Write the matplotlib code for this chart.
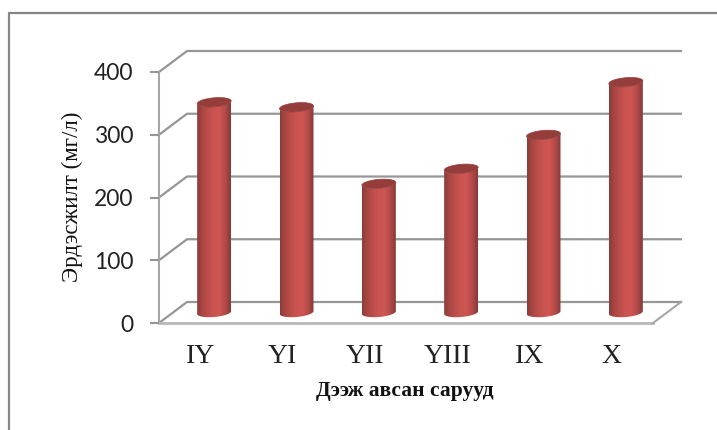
import numpy as np
import matplotlib
matplotlib.use('Agg')
import matplotlib.pyplot as plt
from matplotlib.colors import LinearSegmentedColormap
from matplotlib.lines import Line2D
from matplotlib.patches import PathPatch
from matplotlib.path import Path

months = ['IY', 'YI', 'YII', 'YIII', 'IX', 'X']
values = [335, 327, 205, 229, 283, 367]
y_ticks = [0, 100, 200, 300, 400]

W, H = 717, 430
fig = plt.figure(figsize=(W / 100, H / 100), dpi=100, facecolor='white')

# front plane of the 3D box, in pixels
left, right, top, bottom = 159, 653, 72, 323
ax = fig.add_axes([left / W, 1 - bottom / H, (right - left) / W, (bottom - top) / H])
ax.set_xlim(-0.5, 5.5)
ax.set_ylim(0, 400)
ax.patch.set_alpha(0)
for s in ax.spines.values():
    s.set_visible(False)

# depth of the box in data units
depth_x = 28 / ((right - left) / 6)
depth_y = 21 / ((bottom - top) / 400)
grid_col = '#969696'

# outer chart border
fig.add_artist(Line2D([1, 9 / W, 9 / W], [1 - 13 / H, 1 - 13 / H, 0], color='#868686', lw=1.6))

# back wall and side wall gridlines
for v in y_ticks:
    ax.plot([-0.5, -0.5 + depth_x, 5.5 + depth_x], [v, v + depth_y, v + depth_y],
            color=grid_col, lw=1.6, clip_on=False, zorder=1)
ax.plot([-0.5, -0.5], [0, 400], color='#a6a6a6', lw=1.5, clip_on=False, zorder=1)
# floor edge
ax.plot([-0.5, 5.5], [0, 0], color='#b8b8b8', lw=2, clip_on=False, zorder=1)
ax.plot([5.5, 5.5 + depth_x], [0, depth_y], color='#a6a6a6', lw=1.5, clip_on=False, zorder=1)

# cylinders
cyl_cmap = LinearSegmentedColormap.from_list(
    'cyl', ['#8a3c3a', '#ab4745', '#bd4e4b', '#cb5451', '#cd5552', '#b34a48', '#853a38'])
grad = np.linspace(0, 1, 128).reshape(1, -1)
half_w = 17 / ((right - left) / 6)
rad_y = 4.5 / ((bottom - top) / 400)
tilt = 1.4 / ((bottom - top) / 400)
t = np.linspace(0, np.pi, 40)
for i, val in enumerate(values):
    cx = i + depth_x * 0.5
    base = depth_y / 2
    topv = base + val
    ex = cx + half_w * np.cos(t)
    # tilted ellipse: right side sits a little higher than the left
    low = -rad_y * np.sin(t) + tilt * np.cos(t)
    upp = rad_y * np.sin(t) + tilt * np.cos(t)
    body_x = np.r_[ex[::-1], ex]
    body_y = np.r_[base + low[::-1], topv + low]
    verts = np.column_stack([body_x, body_y])
    im = ax.imshow(grad, extent=[cx - half_w, cx + half_w, base - 2 * rad_y, topv + 2 * rad_y],
                   cmap=cyl_cmap, aspect='auto', zorder=3, interpolation='bilinear')
    clip = PathPatch(Path(verts), transform=ax.transData, fc='none', ec='none')
    ax.add_patch(clip)
    im.set_clip_path(clip)
    cap_x = np.r_[ex, ex[::-1]]
    cap_y = np.r_[topv + upp, topv + low[::-1]]
    ax.fill(cap_x, cap_y, color='#943d3b', lw=0.5, zorder=4)

ax.set_xlim(-0.5, 5.5)
ax.set_ylim(0, 400)

ax.set_yticks(y_ticks)
ax.set_yticklabels([str(v) for v in y_ticks], family='Lato', fontsize=16.5, color='#222222')
ax.tick_params(axis='y', length=6.5, width=1.5, color=grid_col, pad=12)
ax.set_xticks(range(len(months)))
ax.set_xticklabels(months, family='Liberation Serif', fontsize=20, color='#222222')
ax.tick_params(axis='x', length=0, pad=15)

fig.text(405 / W, 1 - 391 / H, 'Дээж авсан сарууд', family='Liberation Serif',
         fontweight='bold', fontsize=15.5, ha='center', va='center', color='#111111')
fig.text(72 / W, 1 - 197 / H, 'Эрдэсжилт (мг/л)', family='Liberation Serif',
         fontsize=16.5, rotation=90, ha='center', va='center', color='#111111')

fig.savefig('out.png', dpi=100)
